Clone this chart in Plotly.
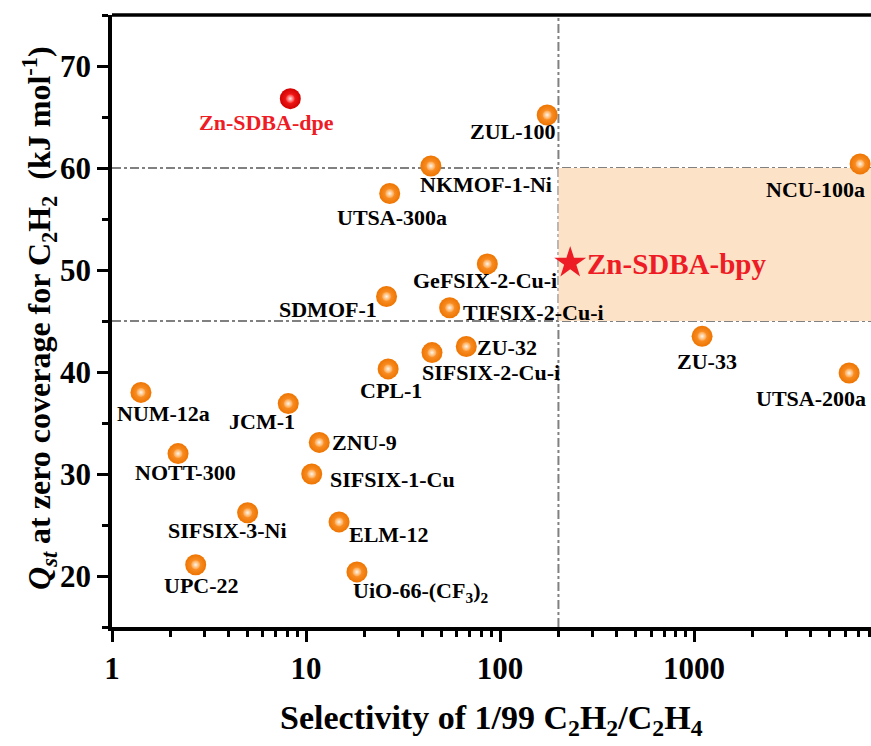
import math
import plotly.graph_objects as go

# Reference MOFs: C2H2/C2H4 (1/99) selectivity vs. Qst at zero coverage
names = ["ZUL-100", "NKMOF-1-Ni", "UTSA-300a", "GeFSIX-2-Cu-i", "SDMOF-1",
         "TIFSIX-2-Cu-i", "ZU-32", "SIFSIX-2-Cu-i", "CPL-1", "NCU-100a",
         "ZU-33", "UTSA-200a", "NUM-12a", "JCM-1", "NOTT-300", "ZNU-9",
         "SIFSIX-1-Cu", "SIFSIX-3-Ni", "UPC-22", "ELM-12",
         "UiO-66-(CF<sub>3</sub>)<sub>2</sub>"]
selectivity = [175, 44, 27, 86, 26, 55, 67, 44.6, 26.5, 7175,
               1100, 6300, 1.41, 8.1, 2.19, 11.7, 10.7, 5.0, 2.7, 14.8, 18.3]
qst = [65.2, 60.2, 57.5, 50.6, 47.4, 46.3, 42.5, 41.9, 40.3, 60.4,
       43.5, 39.9, 38.0, 36.9, 32.0, 33.1, 30.0, 26.2, 21.1, 25.3, 20.4]

# label placement (x anchor, x shift px, y shift px)
label_pos = [("right", 11, -17), ("left", -13, -19), ("center", 2, -24),
             ("center", -2, -17), ("right", -8, -13), ("left", 11, -5),
             ("left", 9, -1), ("left", -12, -20), ("center", 3, -22),
             ("right", 7, -26), ("center", 5, -25), ("right", 19, -25),
             ("center", 23, -21), ("right", 9, -18), ("center", 7, -19),
             ("left", 11, 0), ("left", 16, -5), ("center", -20, -18),
             ("center", 6, -21), ("left", 8, -13), ("left", -6, -20)]

# This work
dpe_name, dpe_x, dpe_y = "Zn-SDBA-dpe", 8.3, 66.8
bpy_name, bpy_x, bpy_y = "Zn-SDBA-bpy", 230, 50.7

# Benchmark window
sel_cut = 200
q_low, q_high = 45, 60

x_range_log = [0, 3.912]
y_range = [15, 75]

FONT = "Times New Roman, Liberation Serif, Tinos, serif"
RED = "#EE1C25"


def sphere(xs, ys, base, shade, glow):
    """Two stacked radial-gradient markers giving a shaded ball look."""
    return [
        go.Scatter(x=xs, y=ys, mode="markers",
                   marker=dict(size=21, color=shade, line=dict(width=0),
                               gradient=dict(type="radial", color=base)),
                   hoverinfo="skip", showlegend=False),
        go.Scatter(x=xs, y=ys, mode="markers",
                   marker=dict(size=9, color=base, line=dict(width=0),
                               gradient=dict(type="radial", color=glow)),
                   hoverinfo="skip", showlegend=False),
    ]


fig = go.Figure()
for tr in sphere(selectivity, qst, "#FFA040", "#EE7400", "#FFF6EC"):
    fig.add_trace(tr)
for tr in sphere([dpe_x], [dpe_y], "#FF2A2A", "#D20000", "#FFE8E8"):
    fig.add_trace(tr)

fig.add_trace(go.Scatter(
    x=[bpy_x], y=[bpy_y], mode="markers",
    marker=dict(symbol="star", size=24, color=RED, line=dict(width=0)),
    hoverinfo="skip", showlegend=False))

label_font = dict(family=FONT, size=22, color="black")
for n, xv, yv, (anc, dx, dy) in zip(names, selectivity, qst, label_pos):
    fig.add_annotation(x=math.log10(xv), y=yv, text=f"<b>{n}</b>",
                       showarrow=False, xanchor=anc, yanchor="middle",
                       xshift=dx, yshift=dy, font=label_font)

fig.add_annotation(x=math.log10(dpe_x), y=dpe_y, text=f"<b>{dpe_name}</b>",
                   showarrow=False, xanchor="center", yanchor="middle",
                   xshift=-24, yshift=-24,
                   font=dict(family=FONT, size=22, color=RED))
fig.add_annotation(x=math.log10(bpy_x), y=bpy_y, text=f"<b>{bpy_name}</b>",
                   showarrow=False, xanchor="left", yanchor="middle",
                   xshift=15, yshift=-1,
                   font=dict(family=FONT, size=29, color=RED))

x_max = 10 ** x_range_log[1]
dash_line = dict(color="#808080", width=2, dash="dashdot")
fig.add_shape(type="rect", xref="x", yref="y", x0=sel_cut, x1=x_max,
              y0=q_low, y1=q_high, fillcolor="#FCE3C8", line=dict(width=0),
              layer="below")
for qv in (q_low, q_high):
    fig.add_shape(type="line", xref="paper", yref="y", x0=0, x1=1,
                  y0=qv, y1=qv, line=dash_line, layer="below")
fig.add_shape(type="line", xref="x", yref="paper", x0=sel_cut, x1=sel_cut,
              y0=0, y1=1, line=dash_line, layer="below")
# top frame line
fig.add_shape(type="line", xref="paper", yref="paper", x0=0, x1=1,
              y0=1, y1=1, line=dict(color="black", width=3.5))

tick_font = dict(family=FONT, size=31, color="black")
fig.update_xaxes(type="log", range=x_range_log, dtick=1,
                 tickvals=[1, 10, 100, 1000],
                 ticktext=["<b>1</b>", "<b>10</b>", "<b>100</b>", "<b>1000</b>"],
                 showline=True, linecolor="black", linewidth=3.5,
                 ticks="outside", ticklen=11, tickwidth=3, tickcolor="black",
                 minor=dict(ticks="outside", ticklen=6, tickwidth=2.5,
                            tickcolor="black", dtick="D1", showgrid=False),
                 showgrid=False, zeroline=False, tickfont=tick_font)
fig.update_yaxes(range=y_range, tickvals=[20, 30, 40, 50, 60, 70],
                 ticktext=["<b>20</b>", "<b>30</b>", "<b>40</b>",
                           "<b>50</b>", "<b>60</b>", "<b>70</b>"],
                 showline=True, linecolor="black", linewidth=3.5,
                 ticks="outside", ticklen=11, tickwidth=3, tickcolor="black",
                 minor=dict(ticks="outside", ticklen=6, tickwidth=2.5,
                            tickcolor="black", tickvals=[15, 25, 35, 45, 55, 65, 75],
                            showgrid=False),
                 showgrid=False, zeroline=False, tickfont=tick_font)

fig.add_annotation(xref="paper", yref="paper", x=0.5, y=0,
                   xanchor="center", yanchor="middle", yshift=-93,
                   text="<b>Selectivity of 1/99 C<sub>2</sub>H<sub>2</sub>/C<sub>2</sub>H<sub>4</sub></b>",
                   showarrow=False, font=dict(family=FONT, size=34, color="black"))
fig.add_annotation(xref="paper", yref="paper", x=0, y=0.505,
                   xanchor="center", yanchor="middle", xshift=-72,
                   textangle=-90,
                   text="<b><i>Q</i><sub><i>st</i></sub> at zero coverage for "
                        "C<sub>2</sub>H<sub>2</sub>  (kJ mol<sup>-1</sup>)</b>",
                   showarrow=False, font=dict(family=FONT, size=32, color="black"))

fig.update_layout(width=871, height=746,
                  margin=dict(l=112, r=0, t=15, b=119),
                  plot_bgcolor="white", paper_bgcolor="white",
                  showlegend=False)

fig.write_html("out.html")
